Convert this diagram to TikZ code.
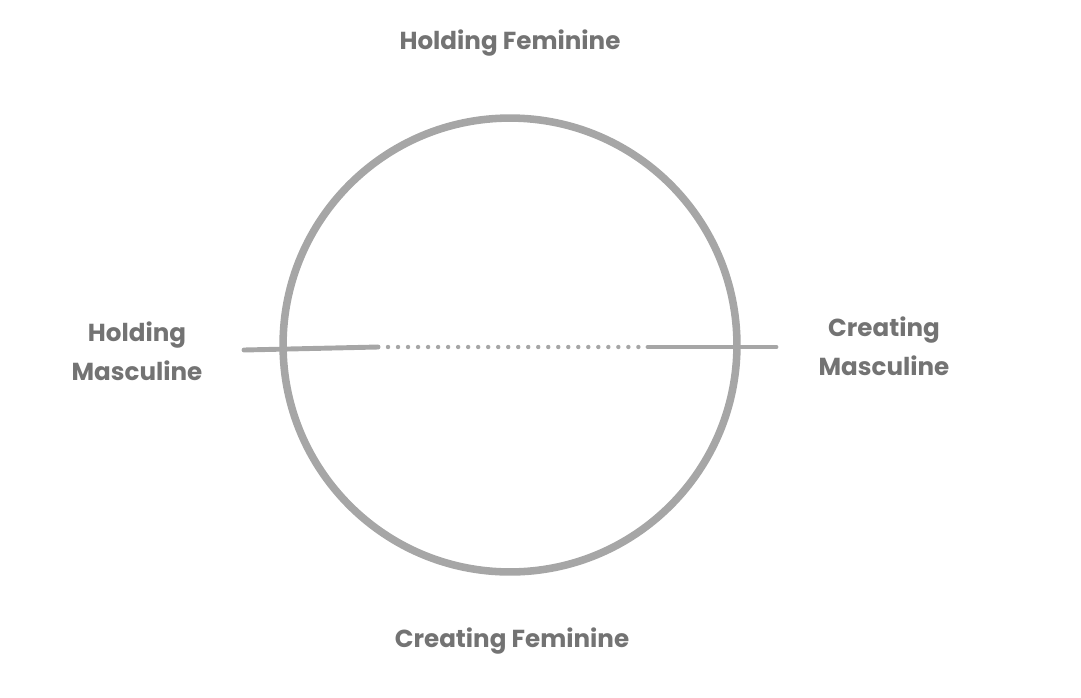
\documentclass[tikz,border=0pt]{standalone}
\usepackage{fontspec}
\setmainfont{Poppins}
\definecolor{ringgray}{HTML}{A6A6A6}
\definecolor{labelgray}{HTML}{737373}
\tikzset{
  label text/.style={text=labelgray, font=\bfseries\fontsize{14}{22}\selectfont, align=center},
  axis line/.style={ringgray, line width=2.8pt, line cap=round},
  dot line/.style={ringgray, line width=2.5pt, line cap=round, dash pattern=on 0pt off 5.7pt}
}
\begin{document}
\begin{tikzpicture}[x=0.02cm, y=-0.02cm]
				\useasboundingbox (0,0) rectangle (1081,697);
				\node[circle, draw=ringgray, line width=4.3pt, minimum size=9.08cm] (ring) at (510,345) {};
				\coordinate (leftend) at (244,350);
				\coordinate (leftstop) at (378,347);
				\coordinate (rightstop) at (648,347);
				\coordinate (rightend) at (776,347);
				\draw[axis line] (leftend) -- (leftstop);
				\draw[dot line] (leftstop) -- (rightstop);
				\draw[axis line] (rightstop) -- (rightend);
				\node[label text] (holdfem) at (510,43) {Holding Feminine};
				\node[label text] (creafem) at (512,641) {Creating Feminine};
				\node[label text] (holdmasc) at (137,351) {Holding\\Masculine};
				\node[label text] (creamasc) at (884,346) {Creating\\Masculine};
			\end{tikzpicture}
\end{document}
